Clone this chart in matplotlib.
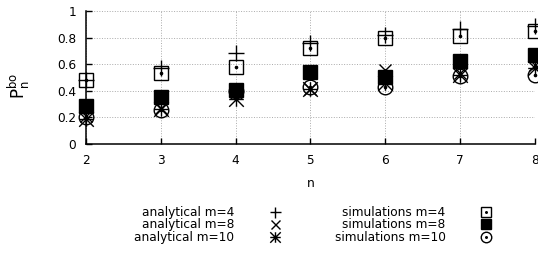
import numpy as np
import matplotlib
matplotlib.use('Agg')
import matplotlib.pyplot as plt
from matplotlib.path import Path

# values
n_values = [2, 3, 4, 5, 6, 7, 8]
analytical_m4 = [0.48, 0.57, 0.685, 0.76, 0.82, 0.865, 0.89]
analytical_m8 = [0.21, 0.27, 0.38, 0.41, 0.555, 0.53, 0.59]
analytical_m10 = [0.19, 0.26, 0.335, 0.41, 0.46, 0.52, 0.57]
simulations_m4 = [0.48, 0.53, 0.58, 0.723, 0.795, 0.813, 0.846]
simulations_m8 = [0.287, 0.356, 0.406, 0.538, 0.50, 0.625, 0.669]
simulations_m10 = [0.20, 0.255, 0.40, 0.425, 0.43, 0.513, 0.52]

y_ticks = [0, 0.2, 0.4, 0.6, 0.8, 1]
y_tick_labels = ["0", "0.2", "0.4", "0.6", "0.8", "1"]

plt.rcParams['font.family'] = ['DejaVu Sans']
plt.rcParams['font.size'] = 8.7

# gnuplot style asterisk: plus and cross together
star_path = Path(
    [(-0.5, 0), (0.5, 0), (0, -0.5), (0, 0.5),
     (-0.5, -0.5), (0.5, 0.5), (-0.5, 0.5), (0.5, -0.5)],
    [Path.MOVETO, Path.LINETO] * 4)

fig = plt.figure(figsize=(5.38, 2.6), dpi=100)
ax = fig.add_axes([0.160, 0.446, 0.834, 0.512])

ms = 10.5
mew = 1.0
common = dict(linestyle='none', color='black', clip_on=False, zorder=3)

h_a4, = ax.plot(n_values, analytical_m4, marker='+', markersize=ms + 0.5, markeredgewidth=mew, **common)
h_a8, = ax.plot(n_values, analytical_m8, marker='x', markersize=ms - 1.5, markeredgewidth=mew, **common)
h_a10, = ax.plot(n_values, analytical_m10, marker=star_path, markersize=ms, markeredgewidth=mew, **common)

h_s4, = ax.plot(n_values, simulations_m4, marker='s', markersize=ms, markerfacecolor='none',
                markeredgewidth=mew, **common)
h_s4d, = ax.plot(n_values, simulations_m4, marker='o', markersize=1.6, **common)
h_s8, = ax.plot(n_values, simulations_m8, marker='s', markersize=ms, markeredgewidth=mew, **common)
h_s10, = ax.plot(n_values, simulations_m10, marker='o', markersize=ms, markerfacecolor='none',
                 markeredgewidth=mew, **common)
h_s10d, = ax.plot(n_values, simulations_m10, marker='o', markersize=1.6, **common)

ax.set_xlim(2, 8)
ax.set_ylim(0, 1)
ax.set_xticks(n_values)
ax.set_yticks(y_ticks)
ax.set_yticklabels(y_tick_labels)

for side in ['top', 'right']:
    ax.spines[side].set_visible(False)
for side in ['left', 'bottom']:
    ax.spines[side].set_linewidth(1.1)
ax.tick_params(direction='in', length=4, width=1.0, pad=7)
ax.grid(True, linestyle=':', color='#aaaaaa', linewidth=0.7)
ax.set_axisbelow(True)

ax.set_xlabel('n')
ax.xaxis.set_label_coords(0.5, -0.25)
ax.set_ylabel(r'$\mathrm{P}_\mathrm{n}^\mathrm{bo}$', fontsize=12)
ax.yaxis.set_label_coords(-0.12, 0.44)

handles = [h_a4, h_a8, h_a10, (h_s4, h_s4d), h_s8, (h_s10, h_s10d)]
labels = ['analytical m=4', 'analytical m=8', 'analytical m=10',
          'simulations m=4', 'simulations m=8', 'simulations m=10']
fig.legend(handles, labels, ncol=2, markerfirst=False, frameon=False,
           loc='center', bbox_to_anchor=(0.585, 0.135), borderpad=0,
           handlelength=1.5, handletextpad=2.6, columnspacing=4.2,
           labelspacing=-0.05, markerscale=0.72)

fig.savefig('out.png', dpi=100)
